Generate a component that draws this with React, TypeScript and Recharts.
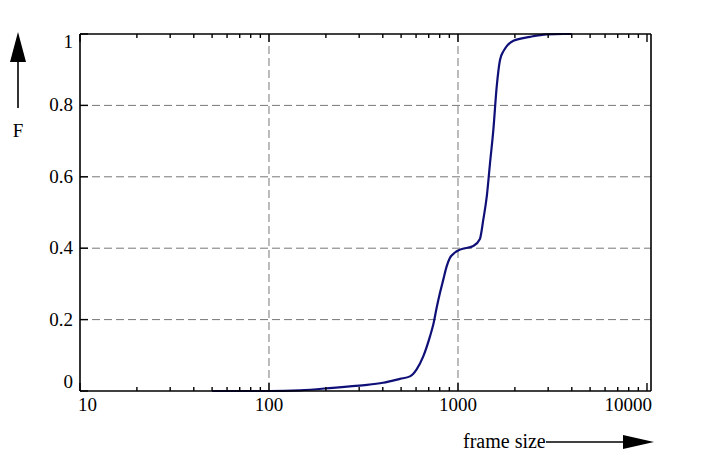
import { CartesianGrid, Line, LineChart, XAxis, YAxis } from 'recharts'

// cumulative distribution of frame sizes
const FRAME_SIZES = [
  50, 100, 146, 218, 268, 330, 401, 493, 557, 603, 655, 711, 740, 771, 803, 836, 871, 907, 964, 1025,
  1205, 1306, 1361, 1420, 1477, 1538, 1603, 1668, 1740, 1811, 1965, 2404, 2946, 3600, 4000,
]
const CDF_VALUES = [
  0, 0, 0.002, 0.009, 0.013, 0.017, 0.023, 0.034, 0.041, 0.06, 0.097, 0.153, 0.186, 0.233, 0.275, 0.312,
  0.349, 0.373, 0.388, 0.396, 0.406, 0.426, 0.48, 0.545, 0.638, 0.731, 0.853, 0.927, 0.952, 0.966, 0.981,
  0.992, 0.999, 1, 1,
]

const X_MAJOR = [10, 100, 1000, 10000]
const X_MINOR = [
  20, 30, 40, 50, 60, 70, 80, 90, 200, 300, 400, 500, 600, 700, 800, 900, 2000, 3000, 4000, 5000, 6000,
  7000, 8000, 9000,
]
const X_TICKS = [...X_MAJOR, ...X_MINOR].sort((a, b) => a - b)
const X_GRID = [100, 1000]
const Y_TICKS = [0, 0.2, 0.4, 0.6, 0.8, 1]
const Y_GRID = [0.2, 0.4, 0.6, 0.8]

const FONT = 'Liberation Serif, Times New Roman, serif'
const FONT_SIZE = 19
const textStyle = { fontFamily: FONT, fontSize: FONT_SIZE }

const chartData = FRAME_SIZES.map((size, i) => ({ size, F: CDF_VALUES[i] }))

function BottomTick({ x, y, payload }: any) {
  const v = payload.value
  const major = X_MAJOR.includes(v)
  let anchor: 'start' | 'middle' | 'end' = 'middle'
  let dx = 0
  if (v === 10) {
    anchor = 'start'
    dx = -2
  } else if (v === 10000) {
    anchor = 'end'
    dx = 5
  }
  return (
    <g>
      <line x1={x} x2={x} y1={y} y2={y - (major ? 8 : 4)} stroke="#000" strokeWidth={1.4} />
      {major && (
        <text x={x + dx} y={y + 20} textAnchor={anchor} style={textStyle} fill="#000">
          {v}
        </text>
      )}
    </g>
  )
}

function TopTick({ x, y, payload }: any) {
  const major = X_MAJOR.includes(payload.value)
  return <line x1={x} x2={x} y1={y} y2={y + (major ? 8 : 4)} stroke="#000" strokeWidth={1.4} />
}

function LeftTick({ x, y, payload }: any) {
  const v = payload.value
  let dy = 6
  if (v === 0) dy = -3
  if (v === 1) dy = 14
  return (
    <g>
      <line x1={x} x2={x + 8} y1={y} y2={y} stroke="#000" strokeWidth={1.4} />
      <text x={x - 7} y={y + dy} textAnchor="end" style={textStyle} fill="#000">
        {String(v)}
      </text>
    </g>
  )
}

function RightTick({ x, y }: any) {
  return <line x1={x} x2={x - 8} y1={y} y2={y} stroke="#000" strokeWidth={1.4} />
}

export default function App() {
  const axisLine = { stroke: '#000', strokeWidth: 1.6 }
  return (
    <div style={{ position: 'absolute', left: 0, top: 0, width: 702, height: 461, background: '#fff' }}>
      <LineChart width={702} height={461} data={chartData} margin={{ top: 24, right: 41, bottom: 40, left: 40 }}>
        <CartesianGrid
          horizontalValues={Y_GRID}
          verticalValues={X_GRID}
          stroke="#777"
          strokeDasharray="8 4"
          strokeWidth={1}
        />
        <XAxis
          dataKey="size"
          type="number"
          scale="log"
          domain={[10, 10500]}
          allowDataOverflow
          ticks={X_TICKS}
          interval={0}
          height={30}
          tickSize={0}
          tickMargin={0}
          tickLine={false}
          axisLine={axisLine}
          tick={<BottomTick />}
        />
        <XAxis
          xAxisId="top"
          orientation="top"
          dataKey="size"
          type="number"
          scale="log"
          domain={[10, 10500]}
          allowDataOverflow
          ticks={X_TICKS}
          interval={0}
          height={10}
          tickSize={0}
          tickMargin={0}
          tickLine={false}
          axisLine={axisLine}
          tick={<TopTick />}
        />
        <YAxis
          type="number"
          domain={[0, 1]}
          ticks={Y_TICKS}
          interval={0}
          width={40}
          tickSize={0}
          tickMargin={0}
          tickLine={false}
          axisLine={axisLine}
          tick={<LeftTick />}
        />
        <YAxis
          yAxisId="right"
          orientation="right"
          type="number"
          domain={[0, 1]}
          ticks={Y_TICKS}
          interval={0}
          width={10}
          tickSize={0}
          tickMargin={0}
          tickLine={false}
          axisLine={axisLine}
          tick={<RightTick />}
        />
        <Line
          type="monotone"
          dataKey="F"
          stroke="#0f0f78"
          strokeWidth={2.2}
          dot={false}
          isAnimationActive={false}
        />
      </LineChart>
      <svg
        width={702}
        height={461}
        style={{ position: 'absolute', left: 0, top: 0, pointerEvents: 'none' }}
      >
        <line x1={18} x2={18} y1={108} y2={60} stroke="#000" strokeWidth={1.6} />
        <polygon points="18,32 10,62 26,62" fill="#000" />
        <text x={18} y={137} textAnchor="middle" style={textStyle} fill="#000">
          F
        </text>
        <text x={463} y={448} style={{ fontFamily: FONT, fontSize: 20 }} fill="#000">
          frame size
        </text>
        <line x1={546} x2={626} y1={442} y2={442} stroke="#000" strokeWidth={1.6} />
        <polygon points="654,442 623,435 623,449" fill="#000" />
      </svg>
    </div>
  )
}
